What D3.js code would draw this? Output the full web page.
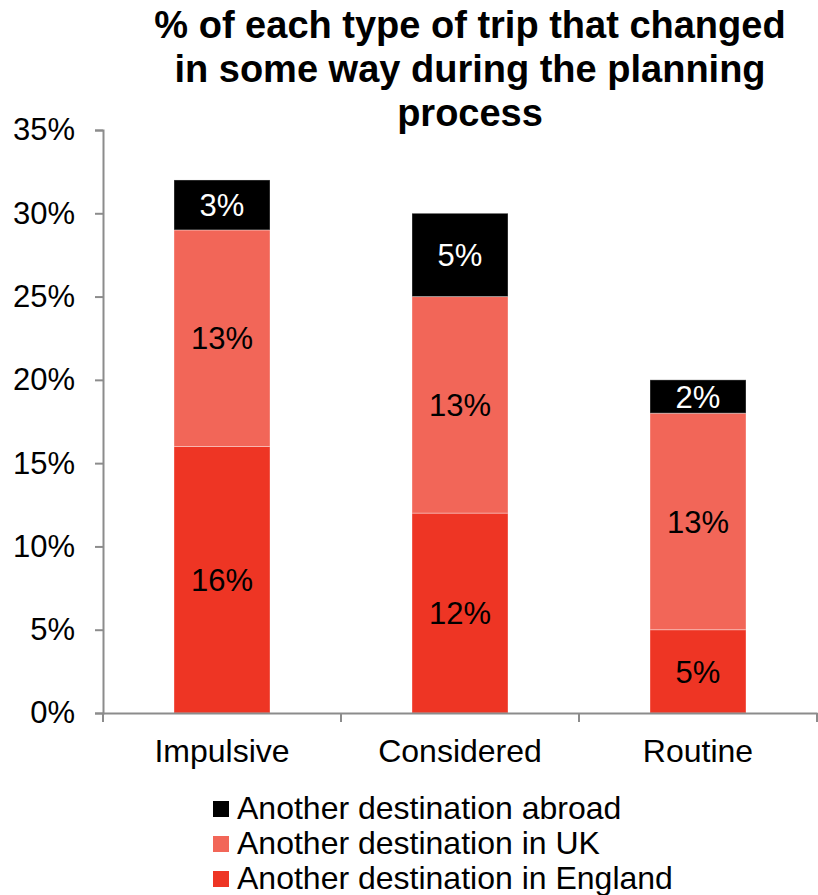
<!DOCTYPE html>
<html lang="en">
<head>
    <meta charset="UTF-8">
    <title>Trip changes</title>
    <script src="https://cdn.jsdelivr.net/npm/d3@7"></script>
    <style>
        body { margin: 0; background: #fff; }
        text { font-family: "Liberation Sans", Arial, sans-serif; }
    </style>
</head>
<body>
<script>
    const width = 818;
    const height = 895;

    const categories = ["Impulsive", "Considered", "Routine"];
    const england = [16, 12, 5];
    const uk = [13, 13, 13];
    const abroad = [3, 5, 2];
    const yTicks = [0, 5, 10, 15, 20, 25, 30, 35];
    const titleLines = ["% of each type of trip that changed", "in some way during the planning", "process"];

    const series = [
        {name: "Another destination in England", values: england, color: "#ee3524", text: "#000"},
        {name: "Another destination in UK", values: uk, color: "#f26658", text: "#000"},
        {name: "Another destination abroad", values: abroad, color: "#000000", text: "#fff"}
    ];

    const svg = d3.select("body").append("svg")
        .attr("width", width).attr("height", height);

    const x = d3.scaleBand().domain(categories).range([103, 817]).paddingInner(0).paddingOuter(0);
    const y = d3.scaleLinear().domain([0, 35]).range([713, 130]);
    const barW = 96;

    // stack
    const rows = categories.map((c, i) => {
        const r = {cat: c};
        series.forEach(s => r[s.name] = s.values[i]);
        return r;
    });
    const stacked = d3.stack().keys(series.map(s => s.name))(rows);

    stacked.forEach((layer, li) => {
        const s = series[li];
        const g = svg.append("g");
        g.selectAll("rect").data(layer).enter().append("rect")
            .attr("x", d => x(d.data.cat) + (x.bandwidth() - barW) / 2)
            .attr("y", d => y(d[1]))
            .attr("width", barW)
            .attr("height", d => y(d[0]) - y(d[1]))
            .attr("fill", s.color)
            .attr("stroke", "rgba(255,255,255,0.35)")
            .attr("stroke-width", 1);
        g.selectAll("text").data(layer).enter().append("text")
            .attr("x", d => x(d.data.cat) + x.bandwidth() / 2)
            .attr("y", d => (y(d[0]) + y(d[1])) / 2)
            .attr("dy", "0.36em")
            .attr("text-anchor", "middle")
            .attr("font-size", 31)
            .attr("fill", s.text)
            .text(d => (d[1] - d[0]) + "%");
    });

    // y axis
    const yAxis = svg.append("g")
        .attr("transform", "translate(103,0)")
        .call(d3.axisLeft(y).tickValues(yTicks).tickFormat(d => d + "%").tickSize(8).tickPadding(20));
    yAxis.select(".domain").attr("stroke", "#8c8c8c").attr("stroke-width", 2);
    yAxis.selectAll(".tick line").attr("stroke", "#8c8c8c").attr("stroke-width", 2);
    yAxis.selectAll(".tick text").attr("font-size", 31).attr("fill", "#000")
        .style("font-family", "'Liberation Sans', Arial, sans-serif");

    // x axis
    const xAxis = svg.append("g")
        .attr("transform", "translate(0,713)")
        .call(d3.axisBottom(x).tickSize(0).tickPadding(26));
    xAxis.select(".domain").attr("stroke", "#8c8c8c").attr("stroke-width", 2);
    xAxis.selectAll(".tick text").attr("font-size", 32).attr("fill", "#000")
        .style("font-family", "'Liberation Sans', Arial, sans-serif");
    // boundary ticks between categories
    const bounds = categories.map(c => x(c)).concat([x.range()[1]]);
    svg.append("g").selectAll("line").data(bounds).enter().append("line")
        .attr("x1", d => d).attr("x2", d => d)
        .attr("y1", 713).attr("y2", 722)
        .attr("stroke", "#8c8c8c").attr("stroke-width", 2);

    // title
    svg.append("g").selectAll("text").data(titleLines).enter().append("text")
        .attr("x", 470)
        .attr("y", (d, i) => 38 + i * 44)
        .attr("text-anchor", "middle")
        .attr("font-size", 38)
        .attr("font-weight", "bold")
        .text(d => d);

    // legend
    const legendItems = series.slice().reverse();
    const lg = svg.append("g").attr("transform", "translate(213,801)");
    const item = lg.selectAll("g").data(legendItems).enter().append("g")
        .attr("transform", (d, i) => `translate(0,${i * 35})`);
    item.append("rect").attr("x", 0).attr("y", 0).attr("width", 16).attr("height", 16)
        .attr("fill", d => d.color);
    item.append("text").attr("x", 24).attr("y", 18)
        .attr("font-size", 32).text(d => d.name);
</script>
</body>
</html>
